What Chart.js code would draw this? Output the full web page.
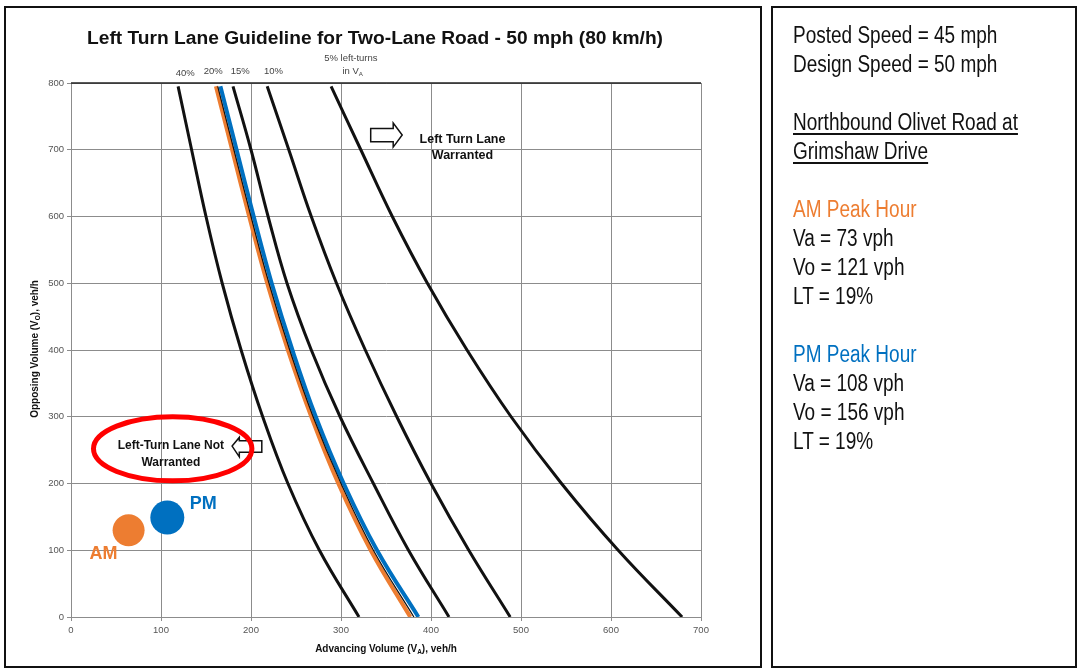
<!DOCTYPE html>
<html>
<head>
<meta charset="utf-8">
<script src="https://cdn.jsdelivr.net/npm/chart.js@4"></script>
<style>
  body { margin: 0; background: #fff; width: 1078px; height: 671px; position: relative; overflow: hidden; }
  #chart { position: absolute; left: 0; top: 0; }
  .frame { position: absolute; border: 2px solid #111; pointer-events: none; }
  #leftFrame { left: 4px; top: 6px; width: 754px; height: 658px; }
  #info { left: 771px; top: 6px; width: 302px; height: 658px; }
  #info .txt { position: absolute; left: 20px; top: 13px; font-family: "Liberation Sans", Arial, sans-serif; font-size: 23px; line-height: 29px; color: #111; transform: scaleX(0.826); transform-origin: 0 0; white-space: nowrap; }
  #info .u { text-decoration: underline; text-underline-offset: 3px; }
  #info .am { color: #ed7d31; }
  #info .pm { color: #0070c0; }
  #info .blank { height: 29px; }
</style>
</head>
<body>
<canvas id="chart" width="768" height="671"></canvas>
<div class="frame" id="leftFrame"></div>
<div class="frame" id="info">
  <div class="txt">
    <div>Posted Speed = 45 mph</div>
    <div>Design Speed = 50 mph</div>
    <div class="blank"></div>
    <div class="u">Northbound Olivet Road at</div>
    <div class="u">Grimshaw Drive</div>
    <div class="blank"></div>
    <div class="am">AM Peak Hour</div>
    <div>Va = 73 vph</div>
    <div>Vo = 121 vph</div>
    <div>LT = 19%</div>
    <div class="blank"></div>
    <div class="pm">PM Peak Hour</div>
    <div>Va = 108 vph</div>
    <div>Vo = 156 vph</div>
    <div>LT = 19%</div>
  </div>
</div>
<script>
// opposing volume levels where each guideline curve was read
const opposing = [795, 700, 600, 500, 400, 300, 200, 100, 0];
// advancing volume on each guideline, per % left turns
const adv40 = [119, 134, 150, 168, 189, 213, 241, 276, 320];
const adv20 = [163, 181, 200, 220, 243, 269, 300, 336, 381];
const adv15 = [180, 200, 219, 240, 267, 299, 336, 375, 420];
const adv10 = [218, 242, 267, 295, 327, 362, 400, 442, 488];
const adv5 = [289, 322, 357, 396, 440, 489, 545, 608, 679];
// 19% curves traced for the two peaks
const advAM = [161, 179, 198, 218, 241, 267, 297, 333, 377];
const advPM = [166, 184, 203, 223, 246, 272, 303, 340, 386];
// peak hour points
const peaks = ["AM", "PM"];
const peakVa = [64, 107];
const peakVo = [130, 149];
const curveLabels = ["40%", "20%", "15%", "10%"];
const curveLabelX = [127, 158, 188, 225];
const curveLabelY = [815, 818, 818, 818];

const ORANGE = "#ed7d31";
const BLUE = "#0070c0";
const FONT = '"Liberation Sans", Arial, sans-serif';

function pts(adv) {
  return adv.map((x, i) => ({ x: x, y: opposing[i] }));
}

function curve(adv, color, width, order) {
  return {
    data: pts(adv),
    showLine: true,
    borderColor: color,
    borderWidth: width,
    pointRadius: 0,
    tension: 0.4,
    order: order,
  };
}

// text with a subscript piece, e.g. V + A
function richText(ctx, parts, cx, cy, size, weight, color) {
  let w = 0;
  parts.forEach((p) => {
    ctx.font = weight + " " + (p.sub ? size * 0.65 : size) + "px " + FONT;
    p.w = ctx.measureText(p.t).width;
    w += p.w;
  });
  let x = cx - w / 2;
  ctx.fillStyle = color;
  ctx.textAlign = "left";
  ctx.textBaseline = "middle";
  parts.forEach((p) => {
    ctx.font = weight + " " + (p.sub ? size * 0.65 : size) + "px " + FONT;
    ctx.fillText(p.t, x, p.sub ? cy + size * 0.3 : cy);
    x += p.w;
  });
}

const decor = {
  id: "decor",
  afterDraw(chart) {
    const ctx = chart.ctx;
    const a = chart.chartArea;
    const sx = chart.scales.x, sy = chart.scales.y;
    const X = (v) => sx.getPixelForValue(v);
    const Y = (v) => sy.getPixelForValue(v);
    ctx.save();

    // dark top edge of plot
    ctx.strokeStyle = "#222";
    ctx.lineWidth = 1.5;
    ctx.beginPath();
    ctx.moveTo(a.left, a.top);
    ctx.lineTo(a.right, a.top);
    ctx.stroke();

    // title
    ctx.fillStyle = "#111";
    ctx.font = "bold 19.2px " + FONT;
    ctx.textAlign = "center";
    ctx.textBaseline = "middle";
    ctx.fillText("Left Turn Lane Guideline for Two-Lane Road - 50 mph (80 km/h)", 375, 39);

    // curve labels over the top
    ctx.font = "9.5px " + FONT;
    ctx.fillStyle = "#444";
    curveLabels.forEach((t, i) => ctx.fillText(t, X(curveLabelX[i]), Y(curveLabelY[i])));
    ctx.fillText("5% left-turns", X(311), Y(837));
    richText(ctx, [{ t: "in V" }, { t: "A", sub: true }], X(313), Y(818), 9.5, "normal", "#444");

    // axis titles
    richText(ctx, [{ t: "Advancing Volume (V" }, { t: "A", sub: true }, { t: "), veh/h" }], 386, 649, 10, "bold", "#111");
    ctx.save();
    ctx.translate(35, 349);
    ctx.rotate(-Math.PI / 2);
    richText(ctx, [{ t: "Opposing Volume (V" }, { t: "O", sub: true }, { t: "), veh/h" }], 0, 0, 10, "bold", "#111");
    ctx.restore();

    // "warranted" arrow and text
    ctx.strokeStyle = "#111";
    ctx.lineWidth = 1.5;
    ctx.beginPath();
    ctx.moveTo(X(333), Y(732));
    ctx.lineTo(X(358), Y(732));
    ctx.lineTo(X(358), Y(740));
    ctx.lineTo(X(368), Y(722));
    ctx.lineTo(X(358), Y(704));
    ctx.lineTo(X(358), Y(712));
    ctx.lineTo(X(333), Y(712));
    ctx.closePath();
    ctx.stroke();
    ctx.fillStyle = "#111";
    ctx.font = "bold 12.5px " + FONT;
    ctx.textAlign = "center";
    ctx.fillText("Left Turn Lane", X(435), Y(716));
    ctx.fillText("Warranted", X(435), Y(692));

    // "not warranted" arrow
    ctx.beginPath();
    ctx.moveTo(X(212), Y(264));
    ctx.lineTo(X(187), Y(264));
    ctx.lineTo(X(187), Y(269));
    ctx.lineTo(X(179), Y(256));
    ctx.lineTo(X(187), Y(240));
    ctx.lineTo(X(187), Y(247));
    ctx.lineTo(X(212), Y(247));
    ctx.closePath();
    ctx.stroke();
    ctx.font = "bold 12px " + FONT;
    ctx.fillText("Left-Turn Lane Not", X(111), Y(256));
    ctx.fillText("Warranted", X(111), Y(231));

    // red ring
    ctx.strokeStyle = "#ff0000";
    ctx.lineWidth = 5;
    ctx.beginPath();
    ctx.ellipse(X(113), Y(252), X(113) - X(25), Y(204) - Y(252), 0, 0, Math.PI * 2);
    ctx.stroke();

    // peak labels
    ctx.font = "bold 18px " + FONT;
    ctx.fillStyle = ORANGE;
    ctx.fillText(peaks[0], X(36), Y(94));
    ctx.fillStyle = BLUE;
    ctx.fillText(peaks[1], X(147), Y(169));
    ctx.restore();
  },
};

new Chart(document.getElementById("chart"), {
  type: "scatter",
  data: {
    datasets: [
      {
        data: [{ x: peakVa[0], y: peakVo[0] }],
        pointRadius: 16,
        pointBackgroundColor: ORANGE,
        pointBorderWidth: 0,
        order: 0,
      },
      {
        data: [{ x: peakVa[1], y: peakVo[1] }],
        pointRadius: 17,
        pointBackgroundColor: BLUE,
        pointBorderWidth: 0,
        order: 0,
      },
      curve(adv20, "#111", 1.2, 1),
      curve(advPM, BLUE, 4, 2),
      curve(advAM, ORANGE, 4, 3),
      curve(adv40, "#111", 3, 4),
      curve(adv15, "#111", 3, 4),
      curve(adv10, "#111", 3, 4),
      curve(adv5, "#111", 3, 4),
    ],
  },
  options: {
    responsive: false,
    animation: false,
    layout: { padding: { top: 83, right: 67, left: 0, bottom: 0 } },
    plugins: {
      legend: { display: false },
      tooltip: { enabled: false },
    },
    scales: {
      x: {
        min: 0,
        max: 700,
        afterFit: (s) => { s.height = 54; },
        ticks: { stepSize: 100, padding: 4, color: "#555", font: { family: FONT, size: 9.5 } },
        grid: { color: "#8c8c8c", tickLength: 4 },
        border: { color: "#8c8c8c" },
      },
      y: {
        min: 0,
        max: 800,
        afterFit: (s) => { s.width = 71; },
        ticks: { stepSize: 100, padding: 3, color: "#555", font: { family: FONT, size: 9.5 } },
        grid: { color: "#8c8c8c", tickLength: 4 },
        border: { color: "#8c8c8c" },
      },
    },
  },
  plugins: [decor],
});
</script>
</body>
</html>
